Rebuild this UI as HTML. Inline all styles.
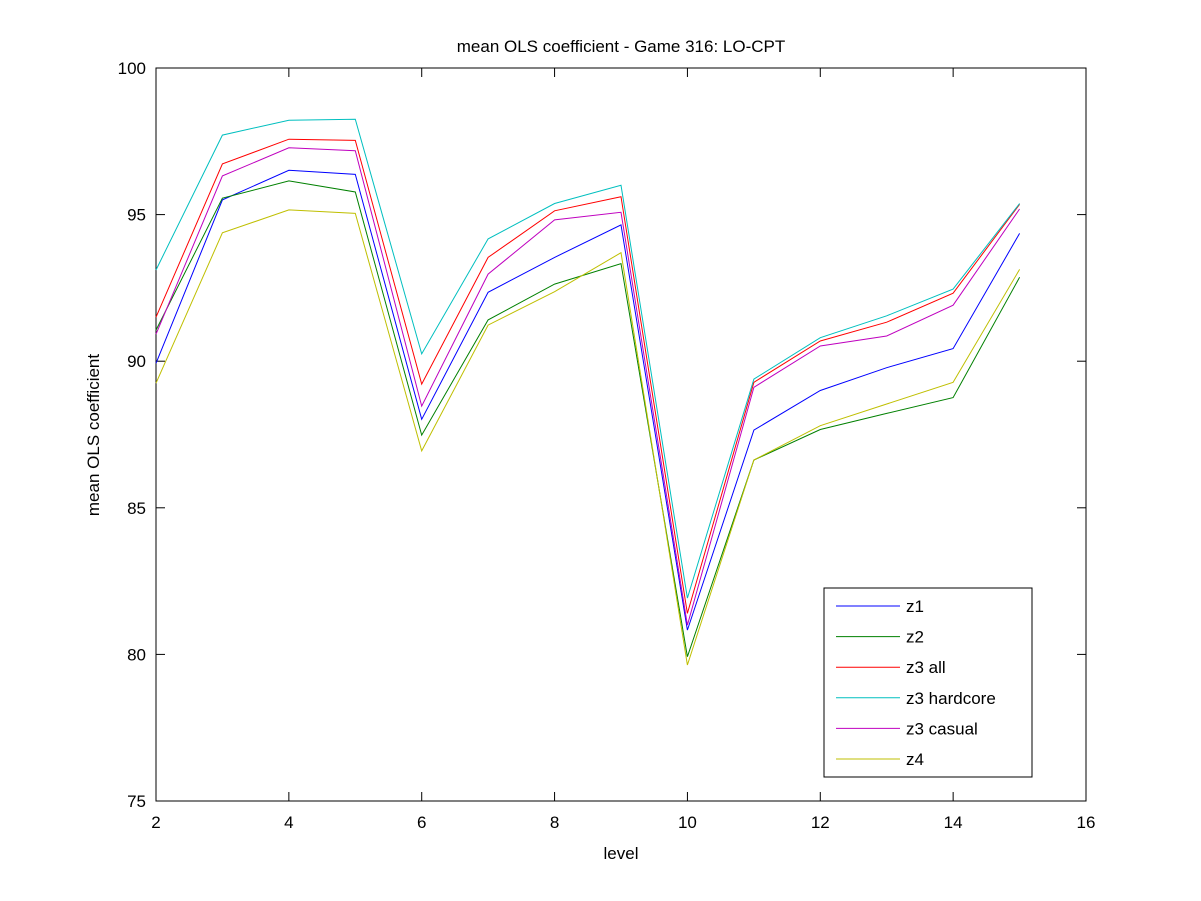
<!DOCTYPE html>
<html><head><meta charset="utf-8"><style>
html,body{margin:0;padding:0;background:#fff;}
svg{display:block;font-family:"Liberation Sans",Arial,sans-serif;}
</style></head><body>
<svg id="chart" width="1201" height="901" viewBox="0 0 1201 901" xmlns="http://www.w3.org/2000/svg">
<rect x="0" y="0" width="1201" height="901" fill="#fff"/>
<g id="plot"></g>
</svg>
<script>
const levels=[2,3,4,5,6,7,8,9,10,11,12,13,14,15];
const z1=[89.93,95.5,96.51,96.37,88.02,92.35,93.54,94.65,80.83,87.65,89.0,89.78,90.43,94.36];
const z2=[91.06,95.56,96.15,95.77,87.48,91.41,92.63,93.33,79.92,86.63,87.67,88.22,88.76,92.86];
const z3all=[91.5,96.73,97.57,97.53,89.22,93.54,95.13,95.61,81.4,89.28,90.69,91.33,92.32,95.35];
const z3hard=[93.11,97.71,98.22,98.25,90.25,94.17,95.38,96.0,81.92,89.39,90.8,91.55,92.46,95.38];
const z3casual=[90.92,96.32,97.28,97.18,88.47,92.97,94.82,95.08,81.0,89.11,90.52,90.86,91.91,95.19];
const z4=[89.25,94.38,95.16,95.04,86.94,91.23,92.37,93.7,79.64,86.63,87.8,88.54,89.28,93.13];
const seriesNames=["z1","z2","z3 all","z3 hardcore","z3 casual","z4"];
const seriesColors=["#0000ff","#008000","#ff0000","#00bfbf","#bf00bf","#bfbf00"];
const seriesData=[z1,z2,z3all,z3hard,z3casual,z4];
const xTicks=[2,4,6,8,10,12,14,16];
const yTicks=[75,80,85,90,95,100];

const L=156,R=1086,T=68,B=801;
const xMin=2,xMax=16,yMin=75,yMax=100;
const sx=v=>L+(v-xMin)/(xMax-xMin)*(R-L);
const sy=v=>B-(v-yMin)/(yMax-yMin)*(B-T);
const NS="http://www.w3.org/2000/svg";
const g=document.getElementById('plot');
function mk(tag,attrs,parent){const e=document.createElementNS(NS,tag);for(const k in attrs)e.setAttribute(k,attrs[k]);(parent||g).appendChild(e);return e;}

// axes box
let box=mk('rect',{x:L,y:T,width:R-L,height:B-T,fill:'none',stroke:'#000','stroke-width':1});



xTicks.forEach(t=>{
  const x=sx(t);
  let a=mk('line',{x1:x,y1:B,x2:x,y2:B-9,stroke:'#000'});
  
  
  let b=mk('line',{x1:x,y1:T,x2:x,y2:T+9,stroke:'#000'});
  
  
  let tx=mk('text',{x:x,y:B+27,'text-anchor':'middle','font-size':17});
  tx.textContent=t;
  
  
});
yTicks.forEach(t=>{
  const y=sy(t);
  let a=mk('line',{x1:L,y1:y,x2:L+9,y2:y,stroke:'#000'});
  
  
  let b=mk('line',{x1:R,y1:y,x2:R-9,y2:y,stroke:'#000'});
  
  
  let tx=mk('text',{x:L-10,y:y+6,'text-anchor':'end','font-size':17});
  tx.textContent=t;
  
  
});

seriesData.forEach((d,i)=>{
  const pts=d.map((v,j)=>sx(levels[j]).toFixed(1)+','+sy(v).toFixed(1)).join(' ');
  let p=mk('polyline',{points:pts,fill:'none',stroke:seriesColors[i],'stroke-width':1});
  
  
});

let title=mk('text',{x:621,y:52,'text-anchor':'middle','font-size':17});
title.textContent='mean OLS coefficient - Game 316: LO-CPT';


let xl=mk('text',{x:621,y:859,'text-anchor':'middle','font-size':17});
xl.textContent='level';


let yl=mk('text',{x:0,y:0,'text-anchor':'middle','font-size':17,transform:'translate(99,435) rotate(-90)'});
yl.textContent='mean OLS coefficient';



// legend
let lg=mk('g',{});


let lb=mk('rect',{x:824,y:588,width:208,height:189,fill:'#fff',stroke:'#000'},lg);


seriesNames.forEach((n,i)=>{
  const y=606+i*30.6;
  let ln=mk('line',{x1:836,y1:y,x2:900,y2:y,stroke:seriesColors[i]},lg);
  
  
  let t=mk('text',{x:906,y:y+6,'font-size':17},lg);
  t.textContent=n;
  
  
});
</script>
</body></html>
